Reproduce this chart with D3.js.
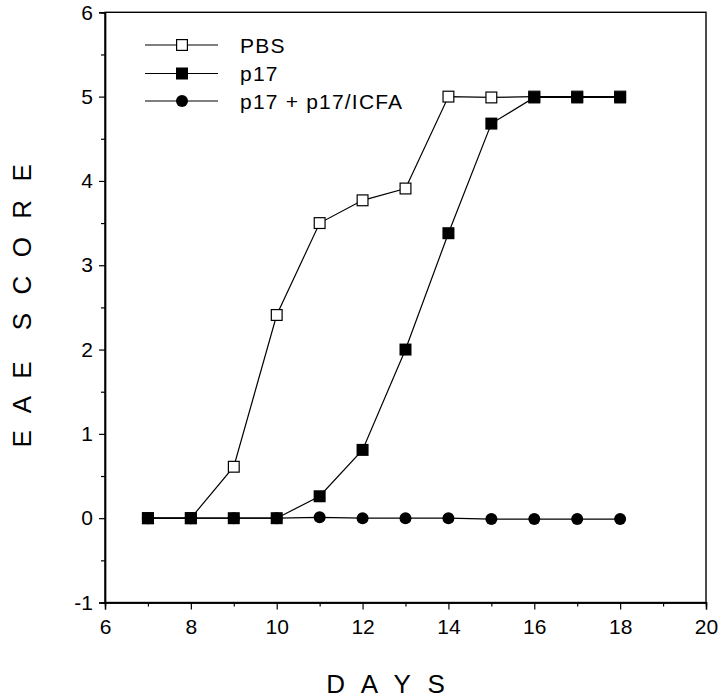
<!DOCTYPE html>
<html><head><meta charset="utf-8">
<script src="https://cdn.jsdelivr.net/npm/d3@7"></script>
<style>body{margin:0;background:#fff}svg{display:block}</style>
</head><body>
<svg id="c" width="720" height="697"></svg>
<script>
const days = [7,8,9,10,11,12,13,14,15,16,17,18];
const pbs  = [0,0,0.61,2.41,3.5,3.77,3.91,5.0,4.99,5,5,5];
const p17  = [0,0,0,0,0.26,0.81,2.0,3.38,4.68,4.99,4.99,4.99];
const icfa = [0,0,0,0,0.01,0.0,0.0,0.0,-0.01,-0.01,-0.01,-0.01];
const seriesNames = ["PBS","p17","p17 + p17/ICFA"];
const xTicks = [6,8,10,12,14,16,18,20];
const yTicks = [-1,0,1,2,3,4,5,6];

const svg = d3.select("#c");
const x = d3.scaleLinear().domain([6,20]).range([105,706]);
const y = d3.scaleLinear().domain([-1,6]).range([602.5,12.3]);
const font = "Liberation Sans, Arial, sans-serif";

// frame
svg.append("rect").attr("x",x(6)).attr("y",y(6)).attr("width",x(20)-x(6)).attr("height",y(-1)-y(6))
  .attr("fill","none").attr("stroke","#000").attr("stroke-width",1.4);

// axes
const fmt = d => String(d);
const xAx = svg.append("g").attr("transform",`translate(0,${y(-1)})`)
  .call(d3.axisBottom(x).tickValues(xTicks).tickSize(7).tickPadding(10).tickFormat(fmt));
const xMin = svg.append("g").attr("transform",`translate(0,${y(-1)})`)
  .call(d3.axisBottom(x).tickValues(d3.range(7,20,2)).tickSize(4).tickFormat(""));
const yAx = svg.append("g").attr("transform",`translate(${x(6)},0)`)
  .call(d3.axisLeft(y).tickValues(yTicks).tickSize(6).tickPadding(6).tickFormat(fmt));
const yMin = svg.append("g").attr("transform",`translate(${x(6)},0)`)
  .call(d3.axisLeft(y).tickValues(d3.range(-0.5,6,1)).tickSize(4).tickFormat(""));
[xAx,xMin,yAx,yMin].forEach(g=>{
  g.select(".domain").attr("stroke-width",1.4);
  g.selectAll(".tick line").attr("stroke-width",1.2);
  g.selectAll("text").attr("font-family",font).attr("font-size",21).attr("fill","#000");
});
xAx.selectAll("text").attr("dy","0.71em");

// axis titles
svg.append("text").attr("x",388).attr("y",692.5).attr("text-anchor","middle")
  .attr("font-family",font).attr("font-size",26).attr("letter-spacing",5).text("D A Y S");
svg.append("text").attr("transform","translate(30.5,303) rotate(-90)").attr("text-anchor","middle")
  .attr("font-family",font).attr("font-size",26).attr("letter-spacing",5.6)
  .style("white-space","pre").text("E A E  S C O R E");

const line = d3.line().x((d,i)=>x(days[i])).y(d=>y(d));
const S = 12;
function drawSeries(vals, type){
  svg.append("path").attr("d",line(vals)).attr("fill","none").attr("stroke","#000").attr("stroke-width",1.2);
  vals.forEach((v,i)=>marker(x(days[i]),y(v),type));
}
function marker(cx,cy,type){
  if(type==="circle"){
    svg.append("circle").attr("cx",cx).attr("cy",cy).attr("r",6).attr("fill","#000");
  } else {
    const open = type==="open";
    svg.append("rect").attr("x",cx-S/2+(open?0.6:0)).attr("y",cy-S/2+(open?0.6:0))
      .attr("width",open?S-1.2:S).attr("height",open?S-1.2:S)
      .attr("fill",open?"#fff":"#000").attr("stroke","#000").attr("stroke-width",open?1.2:0);
  }
}
drawSeries(pbs,"open");
drawSeries(icfa,"circle");
drawSeries(p17,"filled");

// legend
const types = ["open","filled","circle"];
const ly = [45,73.5,101];
seriesNames.forEach((n,i)=>{
  svg.append("line").attr("x1",145).attr("x2",218).attr("y1",ly[i]).attr("y2",ly[i])
    .attr("stroke","#000").attr("stroke-width",1.2);
  marker(182,ly[i],types[i]);
  svg.append("text").attr("x",240).attr("y",ly[i]).attr("dy","0.36em")
    .attr("font-family",font).attr("font-size",21).attr("letter-spacing",1.2).text(n);
});
</script>
</body></html>
